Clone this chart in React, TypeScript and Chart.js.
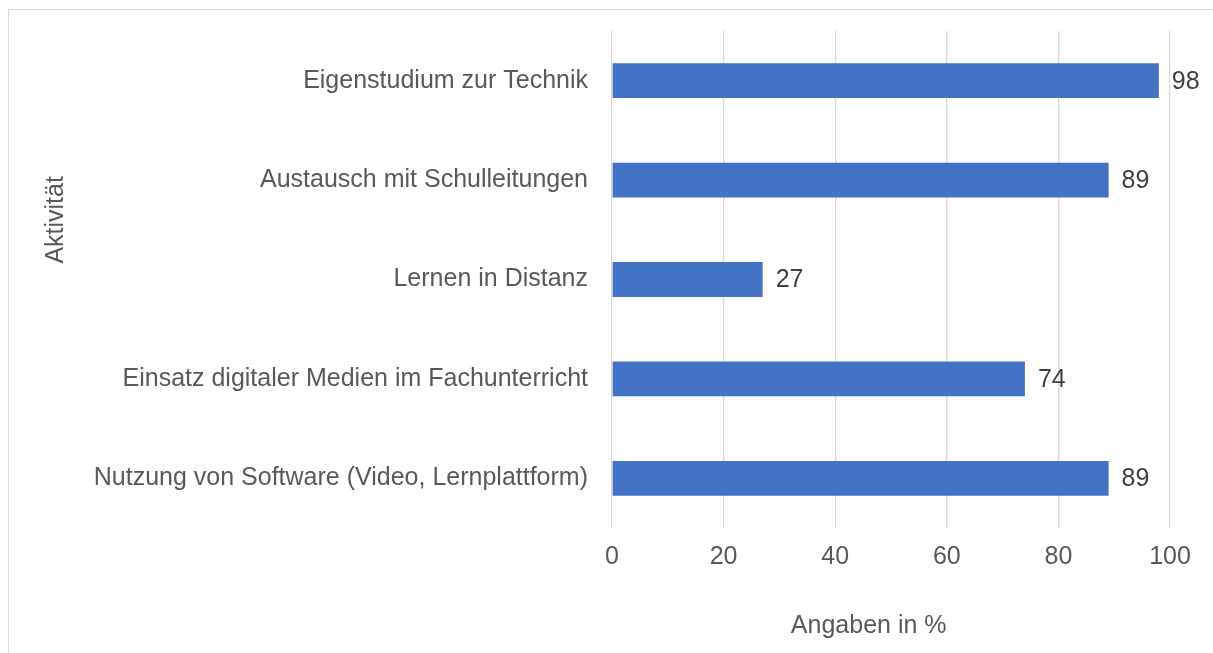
import React, { useEffect, useRef } from "react";
import { Chart, registerables } from "chart.js";

Chart.register(...registerables);

const categories = [
  "Eigenstudium zur Technik",
  "Austausch mit Schulleitungen",
  "Lernen in Distanz",
  "Einsatz digitaler Medien im Fachunterricht",
  "Nutzung von Software (Video, Lernplattform)",
];
const values = [98, 89, 27, 74, 89];
const xTitle = "Angaben in %";
const yTitle = "Aktivität";

const FONT = "'Liberation Sans', Arial, sans-serif";
const FS = 25;

const valueLabels = {
  id: "valueLabels",
  afterDatasetsDraw(chart: any) {
    const ctx = chart.ctx;
    const meta = chart.getDatasetMeta(0);
    ctx.save();
    ctx.font = `${FS}px ${FONT}`;
    ctx.fillStyle = "#404040";
    ctx.textAlign = "left";
    ctx.textBaseline = "middle";
    meta.data.forEach((bar: any, i: number) => {
      ctx.fillText(String(values[i]), bar.x + 13, bar.y + 1);
    });
    ctx.restore();
  },
};

const titlesPlugin = {
  id: "titlesPlugin",
  afterDraw(chart: any) {
    const ctx = chart.ctx;
    const a = chart.chartArea;
    ctx.save();
    ctx.font = `${FS}px ${FONT}`;
    ctx.fillStyle = "#595959";
    ctx.textAlign = "center";
    ctx.textBaseline = "middle";
    ctx.fillText(xTitle, a.left + (a.right - a.left) * 0.46, a.bottom + 98);
    ctx.translate(56, a.top + (a.bottom - a.top) * 0.38);
    ctx.rotate(-Math.PI / 2);
    ctx.fillText(yTitle, 0, 0);
    ctx.restore();
  },
};

export default function App() {
  const ref = useRef<HTMLCanvasElement>(null);
  useEffect(() => {
    document.body.style.margin = "0";
    const chart = new Chart(ref.current!, {
      type: "bar",
      data: {
        labels: categories,
        datasets: [
          {
            data: values,
            backgroundColor: "#4472C4",
            borderWidth: 0,
            categoryPercentage: 1,
            barPercentage: 0.35,
          },
        ],
      },
      options: {
        indexAxis: "y",
        animation: false,
        responsive: false,
        maintainAspectRatio: false,
        layout: { padding: { left: 0, right: 43, top: 31, bottom: 12 } },
        plugins: { legend: { display: false }, tooltip: { enabled: false } },
        scales: {
          x: {
            min: 0,
            max: 100,
            ticks: {
              stepSize: 20,
              padding: 14,
              color: "#595959",
              font: { family: FONT, size: FS },
            },
            grid: { color: "#d9d9d9", lineWidth: 1.3, drawTicks: false },
            border: { display: false },
            afterFit(scale: any) {
              scale.height = 653 - 12 - 528;
              scale.paddingLeft = 0;
              scale.paddingRight = 0;
            },
          },
          y: {
            ticks: {
              padding: 24,
              color: "#595959",
              font: { family: FONT, size: FS },
            },
            grid: { display: false, drawTicks: false },
            border: { display: false },
            afterFit(scale: any) {
              scale.width = 612;
              scale.paddingTop = 0;
              scale.paddingBottom = 0;
            },
          },
        },
      },
      plugins: [valueLabels, titlesPlugin],
    });
    return () => chart.destroy();
  }, []);
  return (
    <div style={{ position: "relative", width: 1213, height: 653, overflow: "hidden", background: "#fff" }}>
      <div
        style={{
          position: "absolute",
          left: 8,
          top: 9,
          width: 1400,
          height: 900,
          border: "1.5px solid #d9d9d9",
          boxSizing: "border-box",
        }}
      />
      <canvas ref={ref} width={1213} height={653} style={{ position: "absolute", left: 0, top: 0 }} />
    </div>
  );
}
